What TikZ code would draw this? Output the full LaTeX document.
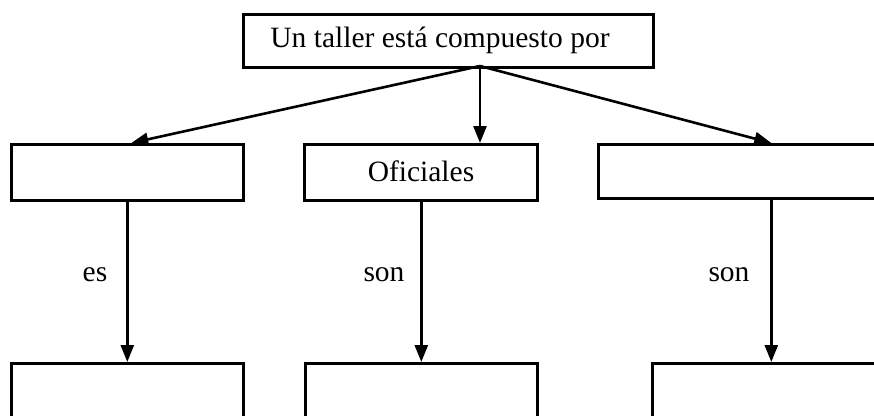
\documentclass[tikz,border=0pt]{standalone}
\usepackage{fontspec}
\setmainfont{Liberation Serif}
\usetikzlibrary{arrows.meta,calc}
\begin{document}
\begin{tikzpicture}[x=1pt,y=-1pt,
  box/.style={draw=black, line width=2.6pt, fill=white, inner sep=0pt, anchor=north west},
  lbl/.style={inner sep=0pt},
  conn/.style={line width=2.6pt, -{Triangle[length=17pt,width=13pt]}},
  font=\fontsize{29.5}{33}\selectfont]
\useasboundingbox (0,0) rectangle (874,415);
% top
\node[box, minimum width=410pt, minimum height=53pt] (top) at (242,13) {};
\node[lbl] (toptext) at (440,40) {Un taller está compuesto por};
\coordinate (fan) at (480,66);
% middle row
\node[box, minimum width=232pt, minimum height=56pt] (l1) at (10,143) {};
\node[box, minimum width=233pt, minimum height=56pt] (m1) at (303,143) {};
\node[lbl] (oficiales) at (421,171) {Oficiales};
\node[box, minimum width=346pt, minimum height=54pt] (r1) at (597,143) {};
% bottom row
\node[box, minimum width=232pt, minimum height=80pt] (l2) at (10,362) {};
\node[box, minimum width=232pt, minimum height=80pt] (m2) at (304,362) {};
\node[box, minimum width=238pt, minimum height=80pt] (r2) at (651,362) {};
% connectors from top
\draw[conn] (fan) -- ($(l1.north)+(4,0)$);
\draw[conn] (fan) -- (m1.north -| fan);
\draw[conn] (fan) -- (r1.north);
% vertical connectors
\draw[conn] (l1.south -| l2.north) -- (l2.north);
\draw[conn] (m1.south -| m2.north) -- (m2.north);
\draw[conn] (r1.south -| r2.north) -- (r2.north);
% labels
\node[lbl] (es) at (95,275) {es};
\node[lbl] (son1) at (384,275) {son};
\node[lbl] (son2) at (729,275) {son};
\end{tikzpicture}
\end{document}
